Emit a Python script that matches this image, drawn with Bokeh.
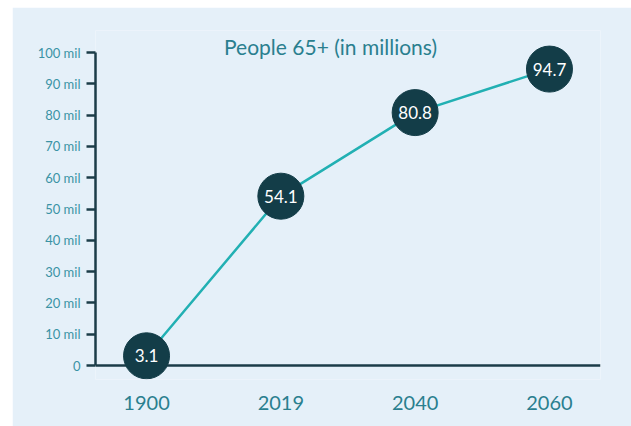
from bokeh.plotting import figure
from bokeh.models import Range1d, FixedTicker, Span, Label, ColumnDataSource
from bokeh.core.properties import value
from bokeh.embed import file_html
from bokeh.resources import INLINE

# Data
years = ["1900", "2019", "2040", "2060"]
people_millions = [3.1, 54.1, 80.8, 94.7]
y_ticks = [0, 10, 20, 30, 40, 50, 60, 70, 80, 90, 100]
y_tick_labels = ["0", "10 mil", "20 mil", "30 mil", "40 mil", "50 mil",
                 "60 mil", "70 mil", "80 mil", "90 mil", "100 mil"]
title_text = "People 65+ (in millions)"

BG = "#e5f0f9"
DARK = "#1b3c48"
CIRCLE = "#133d48"
LINE = "#22b0b3"
TEAL_TEXT = "#2a7f8f"
TICK_TEXT = "#3a93a5"
FONT = "Lato"

xs = list(range(len(years)))
src = ColumnDataSource(dict(
    x=xs, y=people_millions,
    label=[f"{v:.1f}" for v in people_millions],
))

p = figure(width=619, height=419, output_backend="svg", toolbar_location=None,
           x_range=Range1d(-0.38, 3.38), y_range=Range1d(-4.47, 107.03),
           min_border_left=83, min_border_right=31, min_border_top=23,
           min_border_bottom=47, margin=(7, 0, 0, 12))
p.background_fill_color = BG
p.border_fill_color = BG
p.outline_line_color = None
p.grid.visible = False

# y axis
ya = p.yaxis[0]
ya.bounds = (0, 100)
ya.ticker = FixedTicker(ticks=y_ticks)
ya.major_label_overrides = {t: l for t, l in zip(y_ticks, y_tick_labels)}
ya.axis_line_color = DARK
ya.axis_line_width = 2.5
ya.major_tick_line_color = DARK
ya.major_tick_line_width = 2.5
ya.major_tick_out = 9
ya.major_tick_in = 0
ya.minor_tick_line_color = None
ya.major_label_standoff = 6
ya.major_label_text_color = TICK_TEXT
ya.major_label_text_font = FONT
ya.major_label_text_font_size = "13px"

# x axis
xa = p.xaxis[0]
xa.ticker = FixedTicker(ticks=xs)
xa.major_label_overrides = {i: y for i, y in zip(xs, years)}
xa.axis_line_color = None
xa.major_tick_line_color = None
xa.minor_tick_line_color = None
xa.major_label_standoff = 10
xa.major_label_text_color = TEAL_TEXT
xa.major_label_text_font = FONT
xa.major_label_text_font_size = "20px"

# baseline at zero
base = Span(location=0, dimension="width", line_color=DARK, line_width=2.5,
            level="underlay")
p.add_layout(base)

p.line("x", "y", source=src, line_color=LINE, line_width=2.5)
p.scatter("x", "y", source=src, size=46, fill_color=CIRCLE, line_color=CIRCLE)
p.text("x", "y", text="label", source=src, text_color="white",
       text_font=value(FONT), text_font_size="17px",
       text_align="center", text_baseline="middle")

title = Label(x=1.37, y=101.8, text=title_text, text_color=TEAL_TEXT,
              text_font=FONT, text_font_size="21px", text_align="center",
              text_baseline="middle")
p.add_layout(title)

open("out.html", "w").write(file_html(p, INLINE))
